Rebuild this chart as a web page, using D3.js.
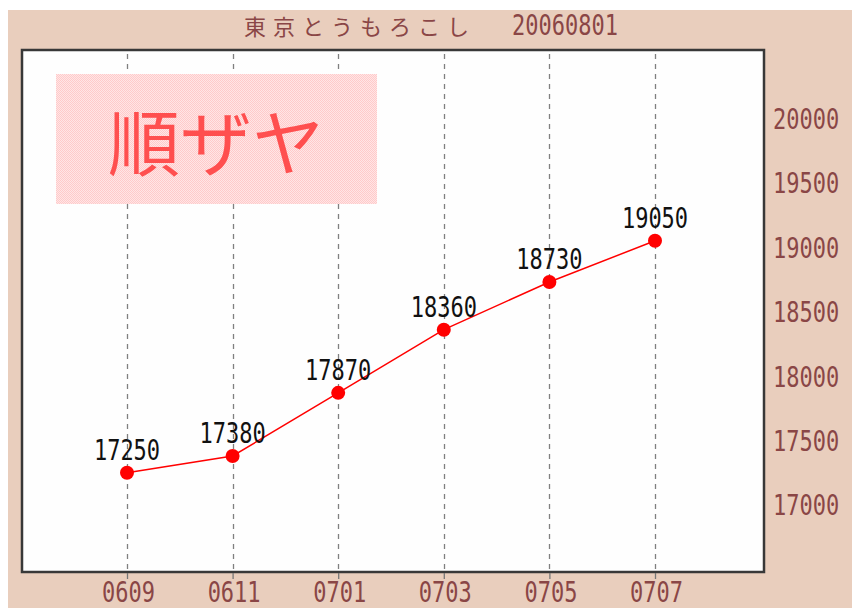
<!DOCTYPE html>
<html>
<head>
<meta charset="utf-8">
<script src="https://cdn.jsdelivr.net/npm/d3@7"></script>
<style>
  html, body { margin: 0; padding: 0; background: #ffffff; }
  svg { display: block; }
</style>
</head>
<body>
<div id="chart"></div>
<script>
// chart data
const months = ["0609", "0611", "0701", "0703", "0705", "0707"];
const prices = [17250, 17380, 17870, 18360, 18730, 19050];
const yTicks = [17000, 17500, 18000, 18500, 19000, 19500, 20000];
const titleName = "東京とうもろこし";
const titleDate = "20060801";
const badge = "順ザヤ";

const W = 852, H = 608;
const box = { left: 22, top: 50, right: 764, bottom: 572 };
const brown = "#8a4646";
const monoFont = "'DejaVu Sans Mono', monospace";

const svg = d3.select("#chart").append("svg")
  .attr("width", W)
  .attr("height", H);

// peach panel
svg.append("rect")
  .attr("x", 8).attr("y", 10)
  .attr("width", W - 8).attr("height", H - 10)
  .attr("fill", "#e9cebd");

// checker pattern for the badge
const defs = svg.append("defs");
const pat = defs.append("pattern")
  .attr("id", "checker")
  .attr("width", 2).attr("height", 2)
  .attr("patternUnits", "userSpaceOnUse");
pat.append("rect").attr("width", 2).attr("height", 2).attr("fill", "#ffe6e6");
pat.append("rect").attr("width", 1).attr("height", 1).attr("fill", "#ffcaca");
pat.append("rect").attr("x", 1).attr("y", 1).attr("width", 1).attr("height", 1).attr("fill", "#ffcaca");

// plot area
svg.append("rect")
  .attr("x", box.left).attr("y", box.top)
  .attr("width", box.right - box.left).attr("height", box.bottom - box.top)
  .attr("fill", "#fefefe");

const x = d3.scaleLinear()
  .domain([-1, 6])
  .range([21.4, 760.6]);
const y = d3.scaleLinear()
  .domain([16480, 20530])
  .range([box.bottom, box.top]);

// dashed verticals
svg.append("g")
  .selectAll("line")
  .data(months)
  .enter()
  .append("line")
  .attr("x1", (d, i) => Math.round(x(i)) + 0.5)
  .attr("x2", (d, i) => Math.round(x(i)) + 0.5)
  .attr("y1", box.top + 4)
  .attr("y2", box.bottom)
  .attr("stroke", "#808080")
  .attr("stroke-width", 1.3)
  .attr("stroke-dasharray", "5,5");

// badge
svg.append("rect")
  .attr("x", 56).attr("y", 74)
  .attr("width", 321).attr("height", 130)
  .attr("fill", "url(#checker)");
svg.append("text")
  .attr("x", 216).attr("y", 170)
  .attr("text-anchor", "middle")
  .attr("font-family", "'Noto Sans CJK JP', sans-serif")
  .attr("font-size", 72)
  .attr("fill", "#ff4f4f")
  .text(badge);

// frame
svg.append("rect")
  .attr("x", box.left).attr("y", box.top)
  .attr("width", box.right - box.left).attr("height", box.bottom - box.top)
  .attr("fill", "none")
  .attr("stroke", "#383838")
  .attr("stroke-width", 2.5);

// x axis
const xAxis = d3.axisBottom(x)
  .tickValues(d3.range(months.length))
  .tickFormat((d) => months[d])
  .tickSize(6)
  .tickSizeOuter(0);
const gx = svg.append("g")
  .attr("transform", "translate(0," + (box.bottom + 1) + ")")
  .call(xAxis);
gx.select(".domain").remove();
gx.selectAll(".tick line").attr("stroke", "#777").attr("stroke-width", 1.3);
gx.selectAll(".tick text")
  .attr("x", null).attr("y", null).attr("dy", null)
  .attr("transform", "translate(1,29) scale(1,1.3)")
  .attr("fill", brown)
  .attr("font-family", monoFont)
  .attr("font-size", 22);

// y axis on the right
const yAxis = d3.axisRight(y)
  .tickValues(yTicks)
  .tickFormat(d3.format("d"))
  .tickSize(0);
const gy = svg.append("g")
  .attr("transform", "translate(" + box.right + ",0)")
  .call(yAxis);
gy.select(".domain").remove();
gy.selectAll(".tick text")
  .attr("x", null).attr("y", null).attr("dy", null)
  .attr("text-anchor", "start")
  .attr("transform", "translate(9,10) scale(1,1.3)")
  .attr("fill", brown)
  .attr("font-family", monoFont)
  .attr("font-size", 22);

// title
svg.append("text")
  .attr("x", 244).attr("y", 35)
  .attr("font-family", "'Noto Sans CJK JP', sans-serif")
  .attr("font-size", 22)
  .attr("letter-spacing", 7)
  .attr("fill", brown)
  .text(titleName);
svg.append("text")
  .attr("transform", "translate(512,35) scale(1,1.3)")
  .attr("font-family", monoFont)
  .attr("font-size", 22)
  .attr("fill", brown)
  .text(titleDate);

// price line
const line = d3.line()
  .x((d, i) => x(i))
  .y((d) => y(d));
svg.append("path")
  .datum(prices)
  .attr("d", line)
  .attr("fill", "none")
  .attr("stroke", "#ff0000")
  .attr("stroke-width", 1.5);

svg.append("g")
  .selectAll("circle")
  .data(prices)
  .enter()
  .append("circle")
  .attr("cx", (d, i) => x(i))
  .attr("cy", (d) => y(d))
  .attr("r", 7)
  .attr("fill", "#ff0000");

// value labels
svg.append("g")
  .selectAll("text")
  .data(prices)
  .enter()
  .append("text")
  .attr("transform", (d, i) => "translate(" + x(i) + "," + (y(d) - 13) + ") scale(1,1.3)")
  .attr("text-anchor", "middle")
  .attr("font-family", monoFont)
  .attr("font-size", 22)
  .attr("fill", "#111")
  .text((d) => d);
</script>
</body>
</html>
